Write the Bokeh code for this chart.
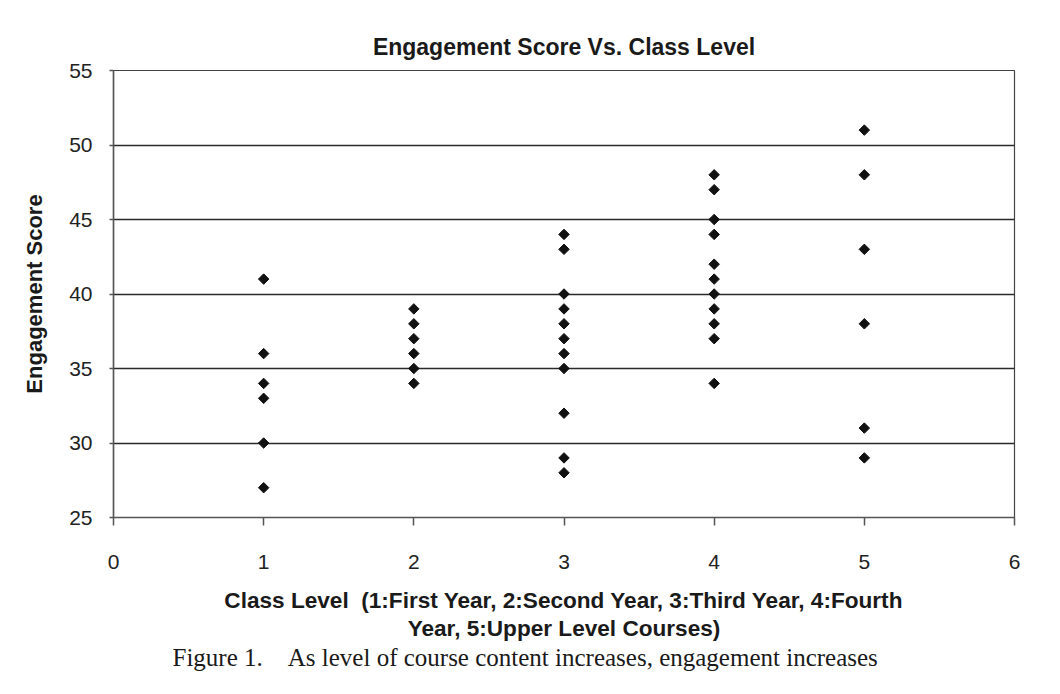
import numpy as np
from bokeh.plotting import figure
from bokeh.models import Title, Range1d, FixedTicker, ColumnDataSource
from bokeh.embed import file_html
from bokeh.resources import INLINE

# ---- data ----
level_1 = [41, 36, 34, 33, 30, 27]
level_2 = [39, 38, 37, 36, 35, 34]
level_3 = [44, 43, 40, 39, 38, 37, 36, 35, 32, 29, 28]
level_4 = [48, 47, 45, 44, 42, 41, 40, 39, 38, 37, 34]
level_5 = [51, 48, 43, 38, 31, 29]
levels = [1, 2, 3, 4, 5]
x_ticks = [0, 1, 2, 3, 4, 5, 6]
y_ticks = [25, 30, 35, 40, 45, 50, 55]

xs, ys = [], []
for lv, vals in zip(levels, [level_1, level_2, level_3, level_4, level_5]):
    xs += [lv] * len(vals)
    ys += vals
src = ColumnDataSource(dict(x=xs, y=ys))

SANS = "Liberation Sans"
NARROW = "'Liberation Sans Narrow', 'Liberation Sans', sans-serif"
NB = "\u00a0"

p = figure(width=1044, height=678, output_backend="svg", toolbar_location=None,
           x_range=Range1d(0, 6), y_range=Range1d(25, 55),
           min_border_left=113, min_border_right=30, min_border_top=70,
           min_border_bottom=161, background_fill_color="white",
           border_fill_color="white")

p.title.text = "Engagement Score Vs. Class Level"
p.title.align = "center"
p.title.text_font = SANS
p.title.text_font_style = "bold"
p.title.text_font_size = "23px"
p.title.text_color = "#1a1a1a"
p.title.standoff = 22

p.scatter("x", "y", source=src, marker="square", size=7.4, angle=np.pi / 4,
          fill_color="#111111", line_color="#111111")

p.outline_line_color = "#444444"
p.outline_line_width = 1.2

p.xgrid.grid_line_color = None
p.ygrid.grid_line_color = "#2a2a2a"
p.ygrid.grid_line_width = 1.3

p.xaxis.ticker = FixedTicker(ticks=x_ticks)
p.yaxis.ticker = FixedTicker(ticks=y_ticks)
for ax in (p.xaxis[0], p.yaxis[0]):
    ax.minor_tick_line_color = None
    ax.axis_line_color = "#555555"
    ax.axis_line_width = 1.5
    ax.major_tick_line_color = "#555555"
    ax.major_tick_line_width = 1.5
    ax.major_tick_in = 0
    ax.major_label_text_font = SANS
    ax.major_label_text_font_size = "21px"
    ax.major_label_text_color = "#222222"

p.xaxis.major_tick_out = 8
p.xaxis.major_label_standoff = 29
p.yaxis.major_tick_out = 4
p.yaxis.major_label_standoff = 17

p.yaxis.axis_label = "Engagement Score"
p.yaxis.axis_label_text_font = SANS
p.yaxis.axis_label_text_font_style = "bold"
p.yaxis.axis_label_text_font_size = "22px"
p.yaxis.axis_label_text_color = "#1a1a1a"
p.yaxis.axis_label_standoff = 19

p.xaxis.axis_label = "Class Level" + NB * 2 + "(1:First Year, 2:Second Year, 3:Third Year, 4:Fourth"
p.xaxis.axis_label_text_font = NARROW
p.xaxis.axis_label_text_font_style = "bold"
p.xaxis.axis_label_text_font_size = "22.6px"
p.xaxis.axis_label_text_color = "#1a1a1a"
p.xaxis.axis_label_standoff = 16

line2 = Title(text="Year, 5:Upper Level Courses)",
              align="center", text_font=NARROW, text_font_style="bold",
              text_font_size="22.6px", text_color="#1a1a1a", standoff=-4)
caption = Title(text="Figure 1." + NB * 4 + "As level of course content increases, engagement increases",
                align="left", offset=59, text_font="Liberation Serif",
                text_font_style="normal", text_font_size="25px",
                text_color="#1a1a1a", standoff=7)
p.add_layout(line2, "below")
p.add_layout(caption, "below")

open("out.html", "w").write(file_html(p, INLINE))
